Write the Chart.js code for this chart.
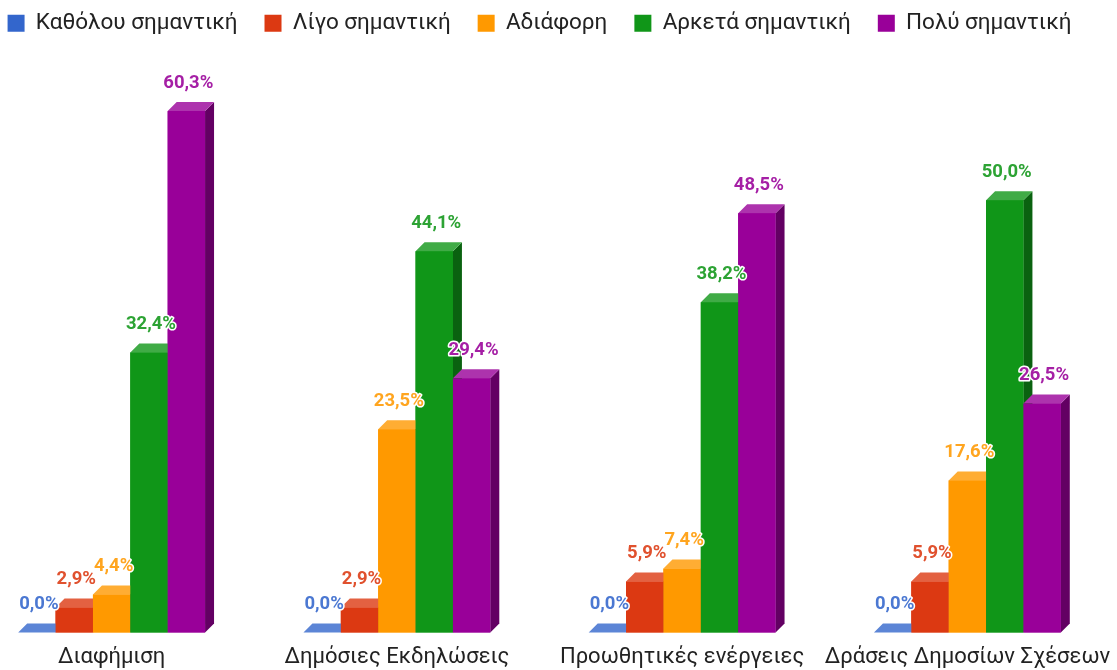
<!DOCTYPE html>
<html lang="el">
<head>
<meta charset="UTF-8">
<title>Σημαντικότητα ενεργειών</title>
<script src="https://cdn.jsdelivr.net/npm/chart.js@4"></script>
<style>
  html, body { margin: 0; padding: 0; background: #fff; overflow: hidden; }
  /* canvas a bit larger than the window so the groups land where the reference has them */
  .wrap { position: absolute; left: -31px; top: -15px; width: 1141px; height: 690px; }
</style>
</head>
<body>
<div class="wrap"><canvas id="chart"></canvas></div>
<script>
const categories = ['Διαφήμιση', 'Δημόσιες Εκδηλώσεις', 'Προωθητικές ενέργειες', 'Δράσεις Δημοσίων Σχέσεων'];
const seriesNames = ['Καθόλου σημαντική', 'Λίγο σημαντική', 'Αδιάφορη', 'Αρκετά σημαντική', 'Πολύ σημαντική'];
const notAtAll = [0.0, 0.0, 0.0, 0.0];
const little   = [2.9, 2.9, 5.9, 5.9];
const neutral  = [4.4, 23.5, 7.4, 17.6];
const quite    = [32.4, 44.1, 38.2, 50.0];
const very     = [60.3, 29.4, 48.5, 26.5];
const seriesColors = ['#3366cc', '#dc3912', '#ff9900', '#109618', '#990099'];

const DEPTH = 9;

function shade(hex, amt) {
  const n = parseInt(hex.slice(1), 16);
  let rgb = [n >> 16, (n >> 8) & 255, n & 255];
  rgb = rgb.map(v => amt > 0 ? v + (255 - v) * amt : v * (1 + amt));
  return 'rgb(' + rgb.map(Math.round).join(',') + ')';
}

function fmt(v) {
  return v.toFixed(1).replace('.', ',') + '%';
}

// redraws every bar as a box: right side, top, then front, left to right
const bars3d = {
  id: 'bars3d',
  afterDatasetsDraw(chart) {
    const ctx = chart.ctx;
    const metas = chart.data.datasets.map((d, i) => chart.getDatasetMeta(i));
    ctx.save();
    for (let j = 0; j < categories.length; j++) {
      metas.forEach((meta, i) => {
        const p = meta.data[j].getProps(['x', 'y', 'base', 'width'], true);
        const l = p.x - p.width / 2, r = p.x + p.width / 2;
        const c = seriesColors[i];

        ctx.fillStyle = shade(c, -0.35);
        ctx.beginPath();
        ctx.moveTo(r, p.base);
        ctx.lineTo(r, p.y);
        ctx.lineTo(r + DEPTH, p.y - DEPTH);
        ctx.lineTo(r + DEPTH, p.base - DEPTH);
        ctx.closePath();
        ctx.fill();

        ctx.fillStyle = shade(c, 0.2);
        ctx.beginPath();
        ctx.moveTo(l, p.y);
        ctx.lineTo(r, p.y);
        ctx.lineTo(r + DEPTH, p.y - DEPTH);
        ctx.lineTo(l + DEPTH, p.y - DEPTH);
        ctx.closePath();
        ctx.fill();

        ctx.fillStyle = c;
        ctx.fillRect(l, p.y, p.width, p.base - p.y);
      });
    }

    // value labels with a white halo
    ctx.font = 'bold 18.5px Roboto';
    ctx.textAlign = 'center';
    ctx.textBaseline = 'middle';
    ctx.lineJoin = 'round';
    ctx.lineWidth = 3;
    ctx.strokeStyle = '#fff';
    metas.forEach((meta, i) => {
      const data = chart.data.datasets[i].data;
      meta.data.forEach((bar, j) => {
        const p = bar.getProps(['x', 'y'], true);
        const tx = p.x + 2, ty = p.y - DEPTH - 19;
        ctx.strokeText(fmt(data[j]), tx, ty);
        ctx.fillStyle = shade(seriesColors[i], 0.12);
        ctx.fillText(fmt(data[j]), tx, ty);
      });
    });
    ctx.restore();
  }
};

const values = [notAtAll, little, neutral, quite, very];

new Chart(document.getElementById('chart'), {
  type: 'bar',
  data: {
    labels: categories,
    datasets: values.map((v, i) => ({
      label: seriesNames[i],
      data: v,
      backgroundColor: seriesColors[i],
      borderWidth: 0,
      categoryPercentage: 0.655,
      barPercentage: 1.0
    }))
  },
  options: {
    responsive: true,
    maintainAspectRatio: false,
    animation: false,
    layout: { padding: 0 },
    plugins: {
      tooltip: { enabled: false },
      legend: {
        position: 'top',
        labels: {
          boxWidth: 17,
          boxHeight: 17,
          padding: 27,
          color: '#222',
          font: { family: 'Roboto', size: 22.5 }
        }
      }
    },
    scales: {
      x: {
        grid: { display: false },
        border: { display: false },
        // long last label must not squeeze the plot area
        afterFit(scale) {
          scale.paddingLeft = 0;
          scale.paddingRight = 0;
        },
        ticks: {
          color: '#222',
          padding: 4,
          maxRotation: 0,
          minRotation: 0,
          autoSkip: false,
          font: { family: 'Roboto', size: 22 }
        }
      },
      y: {
        display: false,
        min: 0,
        max: 68.0
      }
    }
  },
  plugins: [bars3d]
});
</script>
</body>
</html>
